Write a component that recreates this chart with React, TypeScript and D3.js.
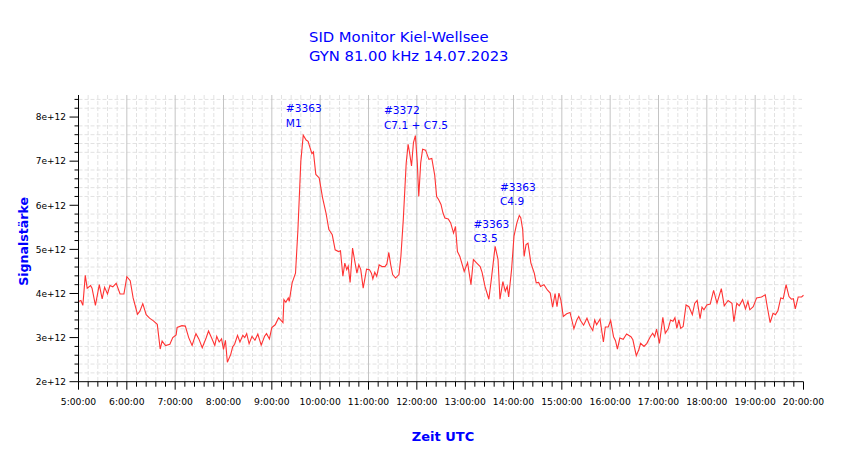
import * as d3 from "d3"

// SID receiver signal, hours UTC and signal strength in units of 1e12
const hours = [
  5.0, 5.05, 5.09, 5.14, 5.18, 5.25, 5.28, 5.35, 5.43, 5.49, 5.54, 5.6, 5.65, 5.71, 5.78, 5.86, 5.94,
  6.0, 6.07, 6.13, 6.22, 6.27, 6.33, 6.4, 6.47, 6.55, 6.63,
  6.69, 6.73, 6.8, 6.89, 6.95, 7.02, 7.04, 7.14, 7.21, 7.28,
  7.35, 7.43, 7.49, 7.56, 7.64, 7.69, 7.75, 7.82, 7.86, 7.91,
  7.96, 8.0, 8.04, 8.08, 8.15, 8.19, 8.23, 8.29, 8.34, 8.4,
  8.44, 8.48, 8.53, 8.59, 8.65, 8.71, 8.78, 8.85, 8.89, 8.95,
  9.0, 9.07, 9.14,
  9.23, 9.25, 9.29, 9.34, 9.36, 9.42, 9.49, 9.54, 9.6, 9.65,
  9.71, 9.75, 9.78, 9.83, 9.86, 9.91, 9.98, 10.05, 10.12, 10.18,
  10.25, 10.31, 10.38, 10.42, 10.47, 10.51, 10.55, 10.58, 10.62, 10.67,
  10.71, 10.76, 10.8, 10.84, 10.89, 10.96, 11.02, 11.06, 11.09, 11.13,
  11.17, 11.22, 11.28, 11.34, 11.38, 11.42, 11.46, 11.5, 11.56, 11.63,
  11.67, 11.72, 11.78, 11.82, 11.85, 11.89, 11.93, 11.97, 12.01, 12.04,
  12.08, 12.12, 12.18, 12.25, 12.31, 12.37, 12.41, 12.45, 12.5, 12.54,
  12.58, 12.65, 12.7, 12.76, 12.8, 12.84, 12.89, 12.98, 13.05, 13.12,
  13.17, 13.24, 13.31, 13.35, 13.41, 13.49, 13.54, 13.62, 13.68, 13.72,
  13.78, 13.83, 13.87, 13.9, 13.96, 14.01, 14.07, 14.12, 14.15, 14.19,
  14.22, 14.26, 14.3, 14.36, 14.43, 14.47, 14.52, 14.56, 14.63, 14.7,
  14.76, 14.81, 14.86, 14.9, 14.94, 14.98, 15.03, 15.1, 15.17, 15.25,
  15.31, 15.35, 15.39, 15.45, 15.52, 15.58, 15.64, 15.68, 15.72, 15.79,
  15.86, 15.9, 15.96, 16.01, 16.07, 16.11, 16.15, 16.2, 16.27, 16.34,
  16.43, 16.47, 16.54, 16.59, 16.63, 16.7, 16.76, 16.83, 16.88, 16.92,
  16.96, 17.02, 17.09, 17.14, 17.2, 17.25, 17.3, 17.34, 17.38, 17.42,
  17.46, 17.51, 17.57, 17.63, 17.7, 17.75, 17.8, 17.86, 17.9, 17.94,
  18.0, 18.07, 18.14, 18.21, 18.3, 18.36, 18.44, 18.52, 18.56, 18.62,
  18.67, 18.74, 18.8, 18.85, 18.89, 18.96, 19.03, 19.13, 19.21, 19.25,
  19.31, 19.37, 19.42, 19.47, 19.53, 19.58, 19.64, 19.7, 19.75, 19.79,
  19.83, 19.89, 19.96, 20.0,
]

const signal = [
  3.82, 3.84, 3.73, 4.41, 4.12, 4.18, 4.12, 3.73, 4.2, 3.88, 4.14, 3.99, 4.18, 4.15, 4.23, 3.99, 3.99,
  4.38, 4.29, 3.9, 3.53, 3.6, 3.77, 3.52, 3.44, 3.38, 3.3,
  2.74, 2.92, 2.82, 2.85, 3.0, 3.06, 3.23, 3.27, 3.26, 3.0,
  2.82, 3.09, 2.97, 2.77, 2.99, 3.15, 3.0, 2.82, 3.03, 2.9,
  2.97, 2.73, 2.94, 2.44, 2.62, 2.79, 2.85, 3.05, 2.9, 3.05,
  3.0, 3.09, 2.86, 3.03, 2.94, 3.08, 2.83, 3.03, 3.09, 2.97,
  3.23, 3.29, 3.45,
  3.34, 3.86, 3.8, 3.9, 3.82, 4.24, 4.46, 5.45, 7.0, 7.59,
  7.48, 7.45, 7.34, 7.17, 7.21, 6.7, 6.62, 6.17, 5.83, 5.45,
  5.33, 4.99, 4.95, 4.97, 4.39, 4.69, 4.54, 4.62, 4.25, 5.03,
  4.77, 4.46, 4.65, 4.54, 4.12, 4.55, 4.54, 4.46, 4.33, 4.48,
  4.39, 4.65, 4.61, 4.61, 4.67, 4.93, 4.65, 4.43, 4.35, 4.43,
  4.84, 5.68, 6.96, 7.38, 7.19, 6.89, 7.42, 7.58, 6.96, 6.2,
  6.96, 7.27, 7.25, 7.04, 7.06, 6.68, 6.2, 6.13, 6.02, 5.83,
  5.71, 5.69, 5.6, 5.37, 5.52, 4.95, 4.84, 4.5, 4.7, 4.2,
  4.77, 4.69, 4.61, 4.48, 4.16, 3.87, 4.31, 5.07, 4.77, 3.87,
  4.27, 4.05, 4.16, 3.92, 4.54, 5.3, 5.6, 5.77, 5.72, 5.45,
  4.84, 5.11, 5.14, 4.69, 4.46, 4.24, 4.25, 4.16, 4.2, 4.08,
  4.01, 3.69, 4.0, 3.7, 4.01, 3.85, 3.48, 3.54, 3.57, 3.2,
  3.4, 3.48, 3.38, 3.28, 3.44, 3.27, 3.16, 3.4, 3.29, 3.42,
  2.9, 3.24, 3.24, 3.39, 3.02, 2.93, 2.74, 2.99, 2.96, 3.08,
  3.02, 2.95, 2.59, 2.72, 2.87, 2.8, 2.87, 3.02, 3.1, 3.02,
  3.19, 2.87, 3.46, 3.1, 3.2, 3.4, 3.37, 3.45, 3.21, 3.4,
  3.21, 3.25, 3.74, 3.7, 3.52, 3.78, 3.84, 3.43, 3.69, 3.63,
  3.74, 3.76, 4.07, 3.78, 4.11, 3.72, 3.84, 3.78, 3.36, 3.78,
  3.72, 3.86, 3.65, 3.82, 3.63, 3.7, 3.9, 3.92, 3.97, 3.7,
  3.34, 3.55, 3.52, 3.61, 3.9, 3.88, 4.2, 3.93, 3.87, 3.88,
  3.65, 3.92, 3.92, 3.96,
]

// flare annotations: region, class, anchor (hour, signal)
const flareRegions = ["#3363", "#3372", "#3363", "#3363"]
const flareClasses = ["M1", "C7.1 + C7.5", "C4.9", "C3.5"]
const flareHours = [9.29, 11.32, 13.72, 13.17]
const flareLevels = [8.11, 8.06, 6.33, 5.49]

const titleLines = ["SID Monitor Kiel-Wellsee", "GYN 81.00 kHz 14.07.2023"]

const blue = "#0000ff"
const font = "DejaVu Sans, Verdana, sans-serif"

export default function App() {
  const width = 850
  const height = 459
  const left = 78.5
  const right = 803.5
  const top = 95
  const bottom = 381.7

  const x = d3.scaleLinear().domain([5, 20]).range([left, right])
  const y = d3.scaleLinear().domain([2, 8.5]).range([bottom, top])

  const xMajor = d3.range(5, 21)
  const xMinor = d3.range(0, 76).filter((i) => i % 5 !== 0).map((i) => 5 + i * 0.2)
  const yMajor = d3.range(2, 9)
  const yMinor = d3.range(0, 33).filter((i) => i % 5 !== 0).map((i) => 2 + i * 0.2)

  const points = hours.map((h, i) => [h, signal[i]] as [number, number])
  const line = d3
    .line<[number, number]>()
    .x((d) => x(d[0]))
    .y((d) => y(d[1]))

  return (
    <svg
      width={width}
      height={height}
      style={{ position: "absolute", left: 0, top: 0, background: "#fff" }}
      fontFamily={font}
    >
      {/* minor grid */}
      {xMinor.map((h) => (
        <line key={"gx" + h} x1={x(h)} x2={x(h)} y1={top} y2={bottom} stroke="#e2e2e2" strokeDasharray="4,2" />
      ))}
      {yMinor.map((v) => (
        <line key={"gy" + v} x1={left} x2={right - 1.5} y1={y(v)} y2={y(v)} stroke="#e2e2e2" strokeDasharray="4,2" />
      ))}
      {/* hour grid */}
      {xMajor.slice(1, -1).map((h) => (
        <line key={"gh" + h} x1={x(h)} x2={x(h)} y1={top} y2={bottom} stroke="#c4c4c4" />
      ))}

      <path d={line(points) ?? ""} fill="none" stroke="#ff3333" strokeWidth={1.1} />

      {/* x axis */}
      <line x1={left} x2={right} y1={bottom} y2={bottom} stroke="#000" />
      {xMinor.map((h) => (
        <line key={"tx" + h} x1={x(h)} x2={x(h)} y1={bottom} y2={bottom + 5} stroke="#000" />
      ))}
      {xMajor.map((h) => (
        <g key={"lx" + h}>
          <line x1={x(h)} x2={x(h)} y1={bottom} y2={bottom + 8} stroke="#000" />
          <text x={x(h)} y={bottom + 23.5} textAnchor="middle" fontSize={9.2} fill="#000">
            {`${h}:00:00`}
          </text>
        </g>
      ))}

      {/* y axis */}
      <line x1={left} x2={left} y1={top} y2={bottom} stroke="#000" />
      {yMinor.map((v) => (
        <line key={"ty" + v} x1={left - 4} x2={left} y1={y(v)} y2={y(v)} stroke="#000" />
      ))}
      {yMajor.map((v) => (
        <g key={"ly" + v}>
          <line x1={left - 9} x2={left} y1={y(v)} y2={y(v)} stroke="#000" />
          <text x={left - 12.5} y={y(v) + 3.3} textAnchor="end" fontSize={9} fill="#000">
            {`${v}e+12`}
          </text>
        </g>
      ))}

      {/* annotations */}
      {flareRegions.map((r, i) => (
        <text key={"fl" + i} x={x(flareHours[i])} y={y(flareLevels[i])} fontSize={10.6} fill={blue}>
          <tspan x={x(flareHours[i])}>{r}</tspan>
          <tspan x={x(flareHours[i])} dy={14.5}>
            {flareClasses[i]}
          </tspan>
        </text>
      ))}

      {/* titles */}
      {titleLines.map((t, i) => (
        <text key={"t" + i} x={309} y={41.7 + i * 19} fontSize={14.8} fill={blue}>
          {t}
        </text>
      ))}
      <text x={(left + right) / 2 + 2} y={441} textAnchor="middle" fontSize={13} fontWeight="bold" fill={blue}>
        Zeit UTC
      </text>
      <text
        transform={`translate(27.5, ${(top + bottom) / 2 + 3}) rotate(-90)`}
        textAnchor="middle"
        fontSize={12.6}
        fontWeight="bold"
        fill={blue}
      >
        Signalstärke
      </text>
    </svg>
  )
}
